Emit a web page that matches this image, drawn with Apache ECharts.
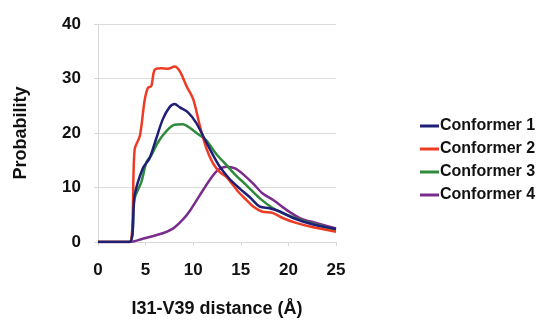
<!DOCTYPE html>
<html>
<head>
  <meta charset="utf8">
  <script src="https://cdn.jsdelivr.net/npm/echarts@6/dist/echarts.min.js"></script>
  <style>
    html, body { margin: 0; padding: 0; background: #fff; }
    #main { width: 542px; height: 323px; }
  </style>
</head>
<body>
<div id="main"></div>
<script type="text/javascript">
  // values: [distance, probability]
  var conformer1 = [[0,0],[3.3,0],[3.85,8.6],[4.7,13.5],[5.4,15.3],[6.1,18.9],[6.8,22.5],[7.5,24.7],[8.05,25.3],[8.6,24.7],[9.45,23.8],[10.3,21.9],[11.2,18.9],[12.1,15.9],[12.8,13.8],[13.8,11.6],[14.9,9.8],[15.9,8.3],[17,6.5],[18,6.2],[19.1,5.6],[20.5,4.4],[22.6,3.2],[25,2.4]];
  var conformer2 = [[0,0],[3.3,0],[3.85,17],[4.4,19.5],[4.9,26],[5.25,28.3],[5.6,28.6],[5.95,31.6],[6.65,31.9],[7.35,31.8],[8.05,32.2],[8.6,31.3],[9.3,28.6],[10,26.2],[10.7,21.3],[11.4,17.1],[12.1,14.4],[12.8,12.8],[13.5,11.9],[14.2,10.4],[14.9,8.9],[15.6,7.7],[16.3,6.5],[17.2,5.6],[18.4,5.3],[19.4,4.4],[20.8,3.5],[22.6,2.7],[25,1.9]];
  var conformer3 = [[0,0],[3.3,0],[3.85,8],[4.55,11],[5.1,14.7],[5.6,15.9],[6.3,18.3],[7.2,20.4],[8.05,21.5],[8.9,21.6],[9.6,21],[10.5,19.8],[11.4,18.6],[12.4,16.2],[13.5,14.1],[14.5,12.2],[15.6,10.4],[17,8],[18.4,6.2],[19.8,5],[21.2,4.1],[22.9,3.2],[25,2.2]];
  var conformer4 = [[0,0],[3.3,0],[4.7,0.6],[6.8,1.6],[7.9,2.5],[8.9,4.1],[9.6,5.6],[10.7,8.6],[11.7,11.3],[12.6,13.2],[13.5,13.8],[14.4,13.5],[15.2,12.5],[16.3,10.7],[17.3,8.9],[18.4,7.7],[19.8,5.9],[21.2,4.4],[22.9,3.5],[25,2.5]];

  var names = ['Conformer 1', 'Conformer 2', 'Conformer 3', 'Conformer 4'];
  var colors = ['#1f1f78', '#ee3b24', '#2f8a3c', '#7a2c8c'];
  var seriesData = [conformer1, conformer2, conformer3, conformer4];

  var font = '"Liberation Sans", Arial, sans-serif';

  var chart = echarts.init(document.getElementById('main'));
  chart.setOption({
    animation: false,
    color: colors,
    grid: { left: 98, right: 206, top: 24, bottom: 79 },
    legend: {
      orient: 'vertical',
      left: 415,
      top: 113,
      itemGap: 7,
      itemWidth: 19,
      itemHeight: 3,
      icon: 'rect',
      textStyle: { fontFamily: font, fontWeight: 'bold', fontSize: 16, color: '#111', padding: [0, 0, 0, -4] },
      data: names
    },
    xAxis: {
      type: 'value', min: 0, max: 25, interval: 5,
      name: 'I31-V39 distance (Å)',
      nameLocation: 'middle', nameGap: 58,
      nameTextStyle: { fontFamily: font, fontWeight: 'bold', fontSize: 18, color: '#111' },
      axisLine: { lineStyle: { color: '#d8d8d8' } },
      axisTick: { show: true, length: 4, lineStyle: { color: '#d8d8d8' } },
      axisLabel: { fontFamily: font, fontWeight: 'bold', fontSize: 17, color: '#111', margin: 20 },
      splitLine: { show: false }
    },
    yAxis: {
      type: 'value', min: 0, max: 40, interval: 10,
      name: 'Probability',
      nameLocation: 'middle', nameGap: 68,
      nameTextStyle: { fontFamily: font, fontWeight: 'bold', fontSize: 18, color: '#111' },
      axisLine: { show: true, lineStyle: { color: '#d8d8d8' } },
      axisTick: { show: true, length: 4, lineStyle: { color: '#d8d8d8' } },
      axisLabel: { fontFamily: font, fontWeight: 'bold', fontSize: 17, color: '#111', margin: 17 },
      splitLine: { lineStyle: { color: '#dcdcdc' } }
    },
    series: names.map(function (n, i) {
      return {
        name: n,
        type: 'line',
        data: seriesData[i],
        smooth: 0.3,
        symbol: 'none',
        lineStyle: { width: 2.5, color: colors[i] },
        z: i === 3 ? 1 : 4 - i
      };
    })
  });
</script>
</body>
</html>
